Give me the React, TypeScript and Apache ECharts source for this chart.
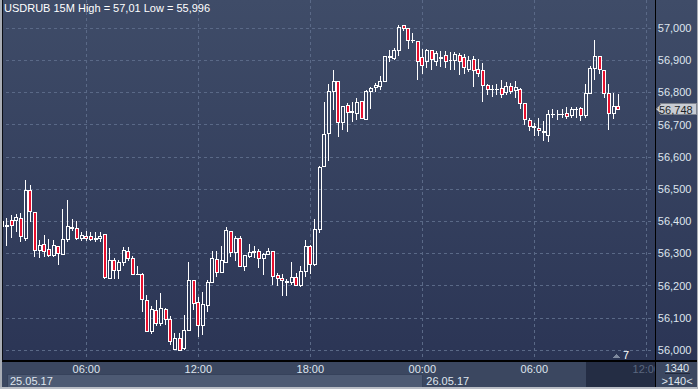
import React, { useEffect, useRef } from 'react';
import * as echarts from 'echarts';

// ---- data ----
const opens = [
  56.382, 56.385, 56.402, 56.402, 56.407, 56.347, 56.494, 56.428, 56.310, 56.329,
  56.311, 56.295, 56.322, 56.298, 56.344, 56.381, 56.378, 56.347, 56.353, 56.351,
  56.344, 56.347, 56.358, 56.223, 56.277, 56.248, 56.273, 56.305, 56.285, 56.235,
  56.235, 56.155, 56.057, 56.123, 56.081, 56.127, 56.095, 56.003, 56.036, 56.005,
  56.060, 56.215, 56.148, 56.077, 56.139, 56.209, 56.282, 56.242, 56.273, 56.367,
  56.304, 56.345, 56.259, 56.291, 56.303, 56.305, 56.285, 56.298, 56.305, 56.230,
  56.223, 56.211, 56.211, 56.226, 56.201, 56.244, 56.322, 56.264, 56.375, 56.570,
  56.671, 56.803, 56.834, 56.707, 56.758, 56.739, 56.734, 56.771, 56.715, 56.804,
  56.814, 56.817, 56.833, 56.909, 56.905, 56.929, 57.008, 56.998, 56.961, 56.957,
  56.907, 56.895, 56.931, 56.895, 56.909, 56.915, 56.899, 56.899, 56.915, 56.907,
  56.871, 56.902, 56.871, 56.868, 56.821, 56.808, 56.809, 56.811, 56.800, 56.817,
  56.807, 56.809, 56.765, 56.712, 56.692, 56.689, 56.678, 56.667, 56.731, 56.731,
  56.731, 56.736, 56.727, 56.747, 56.750, 56.727, 56.798, 56.873, 56.911, 56.869,
  56.798, 56.733, 56.755,
];
const highs = [
  56.400, 56.410, 56.420, 56.423, 56.425, 56.529, 56.513, 56.430, 56.342, 56.358,
  56.344, 56.342, 56.322, 56.438, 56.467, 56.407, 56.402, 56.365, 56.369, 56.365,
  56.366, 56.368, 56.361, 56.316, 56.285, 56.280, 56.319, 56.319, 56.292, 56.261,
  56.240, 56.171, 56.137, 56.156, 56.176, 56.130, 56.106, 56.052, 56.052, 56.109,
  56.272, 56.215, 56.166, 56.180, 56.218, 56.306, 56.308, 56.323, 56.382, 56.370,
  56.353, 56.353, 56.292, 56.330, 56.323, 56.314, 56.300, 56.318, 56.307, 56.239,
  56.235, 56.222, 56.272, 56.240, 56.261, 56.342, 56.325, 56.407, 56.570, 56.769,
  56.827, 56.871, 56.836, 56.757, 56.768, 56.771, 56.783, 56.774, 56.809, 56.817,
  56.830, 56.851, 56.913, 56.933, 56.938, 57.009, 57.010, 57.000, 56.983, 56.960,
  56.935, 56.935, 56.932, 56.928, 56.928, 56.928, 56.926, 56.926, 56.923, 56.920,
  56.913, 56.913, 56.905, 56.892, 56.827, 56.824, 56.827, 56.840, 56.832, 56.829,
  56.834, 56.814, 56.766, 56.722, 56.705, 56.722, 56.711, 56.744, 56.750, 56.745,
  56.747, 56.755, 56.755, 56.755, 56.755, 56.827, 56.883, 56.964, 56.912, 56.870,
  56.826, 56.798, 56.796,
];
const lows = [
  56.380, 56.323, 56.349, 56.368, 56.334, 56.337, 56.399, 56.290, 56.287, 56.290,
  56.288, 56.288, 56.265, 56.296, 56.334, 56.370, 56.342, 56.337, 56.338, 56.337,
  56.336, 56.336, 56.220, 56.220, 56.220, 56.220, 56.262, 56.275, 56.232, 56.233,
  56.119, 56.055, 56.050, 56.075, 56.075, 56.078, 56.016, 56.000, 55.996, 56.000,
  56.058, 56.124, 56.040, 56.047, 56.119, 56.207, 56.228, 56.241, 56.272, 56.290,
  56.275, 56.257, 56.246, 56.286, 56.286, 56.256, 56.234, 56.294, 56.202, 56.199,
  56.169, 56.169, 56.202, 56.200, 56.195, 56.226, 56.237, 56.261, 56.363, 56.568,
  56.586, 56.746, 56.660, 56.682, 56.676, 56.707, 56.715, 56.718, 56.713, 56.750,
  56.801, 56.807, 56.832, 56.894, 56.902, 56.913, 56.990, 56.935, 56.954, 56.840,
  56.858, 56.876, 56.869, 56.882, 56.880, 56.876, 56.871, 56.871, 56.853, 56.857,
  56.864, 56.816, 56.847, 56.770, 56.793, 56.785, 56.793, 56.783, 56.793, 56.794,
  56.784, 56.748, 56.700, 56.679, 56.666, 56.664, 56.648, 56.645, 56.721, 56.714,
  56.722, 56.718, 56.722, 56.722, 56.711, 56.721, 56.796, 56.838, 56.858, 56.783,
  56.682, 56.718, 56.748,
];
const closes = [
  56.399, 56.387, 56.386, 56.410, 56.351, 56.494, 56.430, 56.310, 56.326, 56.305,
  56.294, 56.326, 56.300, 56.344, 56.382, 56.378, 56.347, 56.357, 56.347, 56.344,
  56.345, 56.353, 56.226, 56.278, 56.248, 56.273, 56.308, 56.285, 56.235, 56.236,
  56.156, 56.057, 56.127, 56.081, 56.128, 56.096, 56.027, 56.036, 55.999, 56.062,
  56.215, 56.145, 56.077, 56.140, 56.211, 56.285, 56.242, 56.277, 56.370, 56.304,
  56.345, 56.259, 56.292, 56.302, 56.305, 56.285, 56.298, 56.305, 56.228, 56.223,
  56.215, 56.212, 56.226, 56.201, 56.244, 56.322, 56.266, 56.375, 56.568, 56.669,
  56.803, 56.834, 56.705, 56.755, 56.739, 56.740, 56.768, 56.719, 56.804, 56.811,
  56.821, 56.833, 56.910, 56.910, 56.929, 57.003, 56.999, 56.962, 56.960, 56.895,
  56.882, 56.929, 56.902, 56.920, 56.904, 56.897, 56.899, 56.918, 56.897, 56.876,
  56.899, 56.868, 56.860, 56.822, 56.809, 56.809, 56.808, 56.795, 56.819, 56.804,
  56.814, 56.764, 56.717, 56.694, 56.693, 56.681, 56.677, 56.730, 56.732, 56.731,
  56.732, 56.726, 56.746, 56.748, 56.727, 56.798, 56.873, 56.913, 56.871, 56.796,
  56.736, 56.755, 56.748,
];

const totalSlots = 140; // bars shown (">140<")
const startMinute = 90; // first bar 01:30
const barMinutes = 15;
const labelEveryHours = 6;
const yMin = 56.0;
const yMax = 57.0;
const yStep = 0.1;
const lastPrice = 56.748;
const titleText = 'USDRUB 15M High = 57,01 Low = 55,996';
const dateLabels = ['25.05.17', '26.05.17'];
const shiftText = '7';
const cornerTop = '1340';
const cornerBottom = '>140<';

const FONT = '"Liberation Sans Narrow", "Liberation Sans", Arial, sans-serif';
const TXT = '#dfe5ee';
const GRIDC = '#5a6987';
const BAND = '#3b4760';
const FS = 11;

function buildTimes(): string[] {
  const out: string[] = [];
  for (let i = 0; i < totalSlots; i++) {
    const m = (startMinute + barMinutes * i) % 1440;
    const hh = String(Math.floor(m / 60)).padStart(2, '0');
    const mm = String(m % 60).padStart(2, '0');
    out.push(`${hh}:${mm}`);
  }
  return out;
}

const fmt = (v: number) => v.toFixed(3).replace('.', ',');

export default function App() {
  const ref = useRef<HTMLDivElement>(null);

  useEffect(() => {
    if (!ref.current) return;
    const chart = echarts.init(ref.current, undefined, { renderer: 'svg' });
    const times = buildTimes();
    const isMajor = (index: number) => {
      const t = times[index];
      if (!t || !t.endsWith(':00')) return false;
      return parseInt(t.slice(0, 2), 10) % labelEveryHours === 0;
    };
    const candles = opens.map((o, i) => [o, closes[i], lows[i], highs[i]]);

    chart.setOption({
      animation: false,
      backgroundColor: {
        type: 'linear', x: 0, y: 0, x2: 0, y2: 1,
        colorStops: [
          { offset: 0, color: '#3f4c68' },
          { offset: 0.93, color: '#2b3555' },
          { offset: 1, color: '#2b3555' },
        ],
      },
      grid: [
        { left: 2.333, width: 648.67, top: 0, height: 361 },
        { left: 0, width: 653.33, top: 28, height: 322 },
      ],
      xAxis: [
        {
          type: 'category', gridIndex: 0, data: times, boundaryGap: false,
          axisLine: { show: false }, axisTick: { show: false },
          axisLabel: {
            interval: (index: number) => isMajor(index),
            color: TXT, fontSize: FS, fontFamily: FONT, margin: 2,
            formatter: (v: string, idx: number) => (idx >= opens.length ? `{dim|${v}}` : v),
            rich: { dim: { color: '#5b677f', fontSize: FS, fontFamily: FONT } },
          },
          splitLine: {
            show: true,
            interval: (index: number) => isMajor(index),
            lineStyle: { color: GRIDC, type: [3, 3], width: 1 },
          },
        },
        {
          type: 'category', gridIndex: 1, data: times, show: false,
        },
      ],
      yAxis: [
        { type: 'value', gridIndex: 0, show: false, min: 0, max: 1 },
        {
          type: 'value', gridIndex: 1, position: 'right',
          min: yMin, max: yMax, interval: yStep,
          axisLine: { show: false }, axisTick: { show: false },
          axisLabel: { color: TXT, fontSize: FS, fontFamily: FONT, margin: 4.5, formatter: (v: number) => fmt(v) },
          splitLine: { show: true, lineStyle: { color: GRIDC, type: [3, 3], width: 1 } },
        },
      ],
      series: [
        {
          type: 'candlestick', xAxisIndex: 1, yAxisIndex: 1, data: candles,
          barWidth: 3.5, clip: false,
          itemStyle: {
            color: 'rgba(0,0,0,0)', color0: '#e8102e',
            borderColor: '#ffffff', borderColor0: '#ffffff', borderWidth: 1,
          },
        },
      ],
    });

    const midnightIdx = times.indexOf('00:00');
    const xMid = chart.convertToPixel({ xAxisIndex: 0 }, midnightIdx) as number;
    const yP = chart.convertToPixel({ yAxisIndex: 1 }, lastPrice) as number;

    const txt = (text: string, x: number, y: number, fill: string, align = 'left', size = FS) => ({
      type: 'text', z: 20, silent: true,
      style: { text, x, y, fill, fontSize: size, fontFamily: FONT, align, verticalAlign: 'middle', textAlign: align, textVerticalAlign: 'middle' },
    });

    chart.setOption({
      graphic: {
        elements: [
          { type: 'rect', z: -1, silent: true, shape: { x: 0, y: 361, width: 698, height: 28 }, style: { fill: BAND } },
          { type: 'rect', z: -1, silent: true, shape: { x: 7.5, y: 374.5, width: xMid - 7.5, height: 13 }, style: { fill: '#4d5a73', stroke: '#36425b', lineWidth: 1 } },
          { type: 'rect', z: -1, silent: true, shape: { x: 586, y: 362, width: 69, height: 25 }, style: { fill: '#242d44' } },
          txt(dateLabels[0], 10, 380.5, TXT),
          txt(dateLabels[1], xMid + 4, 380.5, TXT),
          // title
          txt(titleText, 4, 8, '#ffffff'),
          // chart shift marker
          { type: 'polygon', z: 20, silent: true, shape: { points: [[613, 357.5], [616.5, 354], [620, 357.5]] }, style: { fill: '#7e899e' } },
          txt(shiftText, 623, 355, '#ffffff'),
          // corner cover
          { type: 'rect', z: 15, silent: true, shape: { x: 655, y: 361, width: 43, height: 28 }, style: { fill: BAND } },
          txt(cornerTop, 677, 367.5, TXT, 'center'),
          { type: 'line', z: 20, silent: true, shape: { x1: 665, y1: 373.5, x2: 690, y2: 373.5 }, style: { stroke: '#222a3d', lineWidth: 1 } },
          txt(cornerBottom, 677, 381, TXT, 'center'),
          // separators
          { type: 'line', z: 18, silent: true, shape: { x1: 655.5, y1: 0, x2: 655.5, y2: 389 }, style: { stroke: '#000000', lineWidth: 1 } },
          { type: 'line', z: 18, silent: true, shape: { x1: 0, y1: 361, x2: 698, y2: 361 }, style: { stroke: '#000000', lineWidth: 1.5 } },
          { type: 'line', z: 18, silent: true, shape: { x1: 2.5, y1: 0, x2: 2.5, y2: 361 }, style: { stroke: '#0a0d14', lineWidth: 1 } },
          // window border
          { type: 'rect', z: 19, silent: true, shape: { x: 0, y: 0, width: 2, height: 389 }, style: { fill: '#a9adb5' } },
          { type: 'rect', z: 19, silent: true, shape: { x: 0, y: 387, width: 698, height: 2 }, style: { fill: '#b9bdc5' } },
          { type: 'rect', z: 19, silent: true, shape: { x: 696.5, y: 0, width: 1.5, height: 389 }, style: { fill: '#a9adb5' } },
          // last price marker
          {
            type: 'polygon', z: 21, silent: true,
            shape: { points: [[656.5, yP], [661, yP - 5.5], [696.5, yP - 5.5], [696.5, yP + 5.5], [661, yP + 5.5]] },
            style: { fill: '#c8ccd3', stroke: '#7d838e', lineWidth: 1 },
          },
          { ...txt(fmt(lastPrice), 659, yP + 0.5, '#1b1f27'), z: 22 },
        ],
      },
    });

    return () => chart.dispose();
  }, []);

  return (
    <div>
      <style>{'#usdrub-chart svg path { shape-rendering: crispEdges; }'}</style>
      <div id="usdrub-chart" ref={ref} style={{ position: 'fixed', left: 0, top: 0, width: 698, height: 389 }} />
    </div>
  );
}
